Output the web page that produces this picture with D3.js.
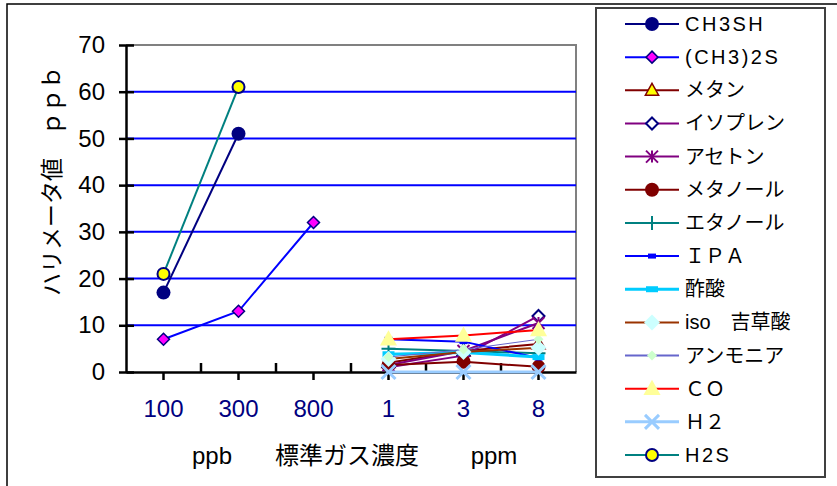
<!DOCTYPE html>
<html><head><meta charset="utf-8">
<script src="https://cdn.jsdelivr.net/npm/d3@7"></script>
<style>
body{margin:0;background:#fff;}
svg{display:block;}
text{font-family:"Liberation Sans",Arial,"Noto Sans CJK JP",sans-serif;}
</style></head>
<body>
<svg id="c" width="837" height="486"></svg>
<script>
// ---- data ----
const categories = ["100","300","800","1","3","8"];
const yTicks = [0,10,20,30,40,50,60,70];
const seriesNames = ["CH3SH","(CH3)2S","メタン","イソプレン","アセトン","メタノール","エタノール","ＩＰＡ","酢酸","iso　吉草酸","アンモニア","ＣＯ","Ｈ２","H2S"];
const ch3sh      = [17, 51, null, null, null, null];
const ch32s      = [7, 13, 32, null, null, null];
const methane    = [null, null, null, 2, 4.5, 6];
const isoprene   = [null, null, null, 1, 3.5, 12];
const acetone    = [null, null, null, 1.5, 4.5, 10.5];
const methanol   = [null, null, null, 1.5, 2.2, 1.1];
const ethanol    = [null, null, null, 5, 4.5, 4];
const ipa        = [null, null, null, 7, 6.5, 3];
const acetic     = [null, null, null, 3.8, 4.2, 3.2];
const isovaleric = [null, null, null, 2.8, 4.3, 5.2];
const ammonia    = [null, null, null, 3.2, 4.8, 7];
const co         = [null, null, null, 7, 7.8, 9];
const h2         = [null, null, null, 0, 0, 0];
const h2s        = [21, 61, null, null, null, null];
const seriesValues = [ch3sh, ch32s, methane, isoprene, acetone, methanol, ethanol, ipa, acetic, isovaleric, ammonia, co, h2, h2s];

// ---- styles ----
const styles = [
  {line:"#000080", lw:2, m:"circle", r:7, fill:"#000080", stroke:"#000080", sw:0},
  {line:"#0000FF", lw:2, m:"diamond", r:6, fill:"#FF00FF", stroke:"#000080", sw:1.5},
  {line:"#800000", lw:2, m:"triangle", r:7, fill:"#FFFF00", stroke:"#800000", sw:1.5},
  {line:"#800080", lw:2, m:"diamond", r:6, fill:"#FFFFFF", stroke:"#000080", sw:2},
  {line:"#800080", lw:2, m:"asterisk", r:6, fill:"none", stroke:"#800080", sw:2},
  {line:"#800000", lw:2, m:"circle", r:7, fill:"#800000", stroke:"#800000", sw:0},
  {line:"#008080", lw:2, m:"plus", r:7, fill:"none", stroke:"#008080", sw:2},
  {line:"#0000FF", lw:2, m:"rect", w:8, h:5, fill:"#0000FF", stroke:"none", sw:0},
  {line:"#00CCFF", lw:3, m:"rect", w:12, h:6, fill:"#00CCFF", stroke:"none", sw:0},
  {line:"#993300", lw:2, m:"diamond", r:8, fill:"#CCFFFF", stroke:"none", sw:0},
  {line:"#6666CC", lw:1, m:"diamond", r:5, fill:"#CCFFCC", stroke:"none", sw:0},
  {line:"#FF0000", lw:2, m:"triangle", r:9, fill:"#FFFF99", stroke:"none", sw:0},
  {line:"#99CCFF", lw:3, m:"x", r:7, fill:"none", stroke:"#99CCFF", sw:3},
  {line:"#008080", lw:2, m:"circle", r:6, fill:"#FFFF00", stroke:"#000080", sw:2}
];

const svg = d3.select("#c");
const L=126, R=576, T=45, B=372;
const x = d3.scaleBand().domain(categories).range([L,R]);
const cx = c => x(c) + x.bandwidth()/2;
const y = d3.scaleLinear().domain([0,70]).range([B,T]);

// outer frame
svg.append("rect").attr("x",7).attr("y",4).attr("width",840).attr("height",500)
  .attr("fill","#fff").attr("stroke","#000").attr("stroke-width",1.5);

// plot border (gray)
svg.append("path").attr("d",`M${L},${T}H${R}V${B}`).attr("fill","none")
  .attr("stroke","#808080").attr("stroke-width",2);

// gridlines
svg.append("g").selectAll("line").data(yTicks.filter(v=>v>0 && v<70)).join("line")
  .attr("x1",L).attr("x2",R).attr("y1",d=>y(d)).attr("y2",d=>y(d))
  .attr("stroke","#0000FF").attr("stroke-width",2);

// y axis
const yAx = svg.append("g").attr("transform",`translate(${L},0)`)
  .call(d3.axisLeft(y).tickValues(yTicks).tickSizeInner(7).tickSizeOuter(0).tickPadding(14));
yAx.select(".domain").attr("stroke","#000").attr("stroke-width",2.5);
yAx.selectAll(".tick line").attr("stroke","#000").attr("stroke-width",2.5);
yAx.selectAll(".tick text").attr("font-size",24).attr("fill","#000")
  .attr("font-family",'"Liberation Sans",Arial,sans-serif');
const yAx2 = svg.append("g").attr("transform",`translate(${L},0)`)
  .call(d3.axisRight(y).tickValues(yTicks).tickSizeInner(8).tickSizeOuter(0).tickFormat(""));
yAx2.select(".domain").remove();
yAx2.selectAll(".tick line").attr("stroke","#000").attr("stroke-width",2.5);

// x axis
const xAx = svg.append("g").attr("transform",`translate(0,${B})`)
  .call(d3.axisBottom(x).tickSizeInner(8).tickSizeOuter(0));
xAx.select(".domain").attr("stroke","#000").attr("stroke-width",2.5);
xAx.selectAll(".tick line").attr("stroke","#000").attr("stroke-width",2.5);
xAx.selectAll(".tick text").attr("font-size",24).attr("fill","#000080")
  .attr("y",37).attr("dy","0.35em").attr("font-family",'"Liberation Sans",Arial,sans-serif');
// inner boundary ticks
svg.append("g").selectAll("line").data(categories.slice(1)).join("line")
  .attr("x1",d=>x(d)).attr("x2",d=>x(d)).attr("y1",B).attr("y2",B-9)
  .attr("stroke","#000").attr("stroke-width",2.5);

// axis titles
svg.append("text").attr("transform","translate(52,181) rotate(-90)")
  .attr("text-anchor","middle").attr("dominant-baseline","central")
  .attr("font-size",23).attr("fill","#000").text("ハリメータ値　ｐｐｂ");
const xt = [["ppb",212],["標準ガス濃度",347],["ppm",494]];
svg.append("g").selectAll("text").data(xt).join("text")
  .attr("x",d=>d[1]).attr("y",455).attr("text-anchor","middle").attr("dominant-baseline","central")
  .attr("font-size",24).attr("fill","#000").text(d=>d[0]);

// marker drawing
function marker(g, s, px, py){
  const r=s.r;
  let el;
  if(s.m==="circle"){
    el=g.append("circle").attr("cx",px).attr("cy",py).attr("r",r);
  } else if(s.m==="diamond"){
    el=g.append("path").attr("d",`M${px},${py-r}L${px+r},${py}L${px},${py+r}L${px-r},${py}Z`);
  } else if(s.m==="triangle"){
    el=g.append("path").attr("d",`M${px},${py-r}L${px+r*0.95},${py+r*0.7}L${px-r*0.95},${py+r*0.7}Z`);
  } else if(s.m==="rect"){
    el=g.append("rect").attr("x",px-s.w/2).attr("y",py-s.h/2).attr("width",s.w).attr("height",s.h);
  } else if(s.m==="x"){
    el=g.append("path").attr("d",`M${px-r},${py-r}L${px+r},${py+r}M${px-r},${py+r}L${px+r},${py-r}`);
  } else if(s.m==="plus"){
    el=g.append("path").attr("d",`M${px-r},${py}H${px+r}M${px},${py-r}V${py+r}`);
  } else if(s.m==="asterisk"){
    el=g.append("path").attr("d",`M${px-r},${py-r}L${px+r},${py+r}M${px-r},${py+r}L${px+r},${py-r}M${px},${py-r}V${py+r}`);
  }
  el.attr("fill",s.fill).attr("stroke",s.sw>0?s.stroke:"none").attr("stroke-width",s.sw);
}

// series
const line = d3.line().defined(d=>d.v!=null).x(d=>cx(d.c)).y(d=>y(d.v));
const plot = svg.append("g");
seriesValues.forEach((vals,i)=>{
  const s=styles[i];
  const pts = categories.map((c,j)=>({c, v: vals[j]}));
  const g = plot.append("g");
  g.append("path").datum(pts).attr("d",line).attr("fill","none")
    .attr("stroke",s.line).attr("stroke-width",s.lw);
  pts.filter(p=>p.v!=null).forEach(p=>marker(g,s,cx(p.c),y(p.v)));
});

// legend
svg.append("rect").attr("x",596).attr("y",8).attr("width",229).attr("height",469)
  .attr("fill","#fff").attr("stroke","#404040").attr("stroke-width",2);
const legendY = d3.scaleLinear().domain([0,13]).range([24,455]);
seriesNames.forEach((name,i)=>{
  const s=styles[i];
  const ly=legendY(i);
  const g=svg.append("g");
  g.append("line").attr("x1",625).attr("x2",679).attr("y1",ly).attr("y2",ly)
    .attr("stroke",s.line).attr("stroke-width",Math.max(s.lw,2));
  marker(g,s,652,ly);
  const ascii = /^[\x00-\x7f]+$/.test(name);
  g.append("text").attr("x",685).attr("y",ly).attr("dominant-baseline","central")
    .attr("font-size",20).attr("fill","#000")
    .attr("letter-spacing",ascii?2.5:0).text(name);
});
</script>
</body></html>
